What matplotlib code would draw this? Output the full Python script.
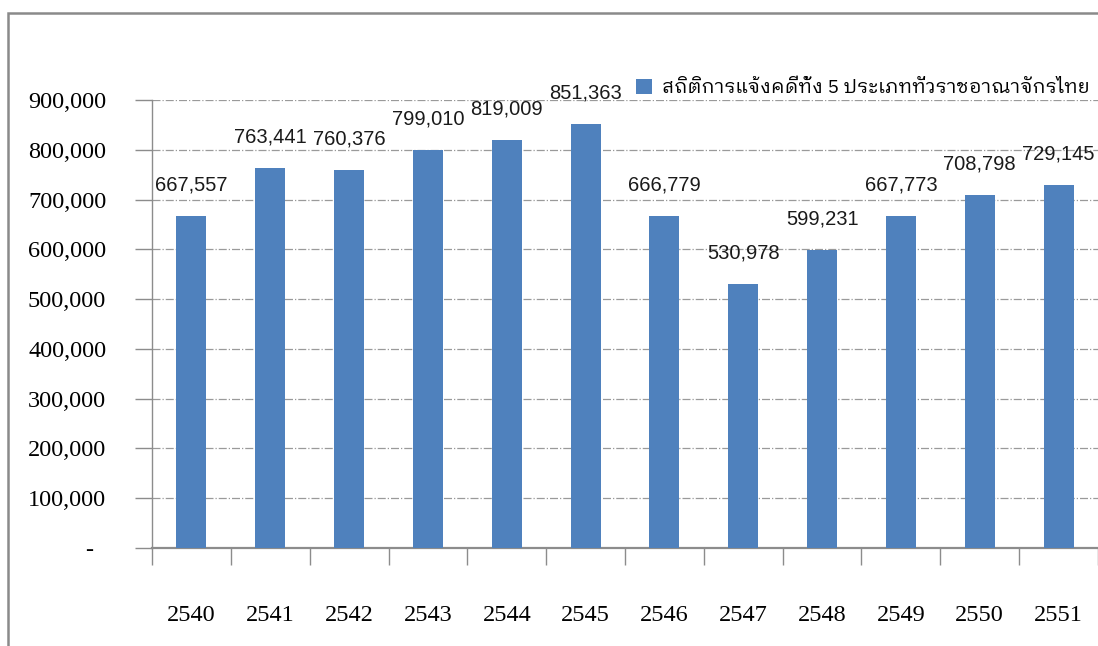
import matplotlib
matplotlib.use('Agg')
import matplotlib.pyplot as plt
from matplotlib import font_manager
from matplotlib.ft2font import FT2Font
from matplotlib.patches import Rectangle

years = ['2540', '2541', '2542', '2543', '2544', '2545',
         '2546', '2547', '2548', '2549', '2550', '2551']
cases = [667557, 763441, 760376, 799010, 819009, 851363,
         666779, 530978, 599231, 667773, 708798, 729145]
y_ticks = [0, 100000, 200000, 300000, 400000, 500000,
           600000, 700000, 800000, 900000]
legend_label = 'สถิติการแจ้งคดีทั้ง 5 ประเภททั่วราชอาณาจักรไทย'

bar_color = '#4F81BD'


# หาฟอนต์ที่มีอักษรไทย
def thai_family():
    found = []
    for f in font_manager.fontManager.ttflist:
        try:
            if 0x0E2A in FT2Font(f.fname).get_charmap():
                found.append(f.name)
        except Exception:
            pass
    for pref in ['Looped', 'Serif', 'Thai']:
        for name in found:
            if pref in name:
                return name
    return found[0] if found else 'DejaVu Sans'


thai = thai_family()

fig = plt.figure(figsize=(10.98, 6.46), dpi=100)
ax = fig.add_axes([152 / 1098, 1 - 548 / 646, 1 - 152 / 1098, (548 - 100) / 646])

x = list(range(len(years)))
bars = ax.bar(x, cases, width=0.38, color=bar_color, zorder=3,
              label=legend_label)

ax.set_ylim(0, 900000)
ax.set_xlim(-0.5, 11.47)

# เส้นกริดแบบเส้นประ-จุด
ax.set_yticks(y_ticks)
ax.set_yticklabels(['-  '] + ['{:,}'.format(v) for v in y_ticks[1:]],
                   fontsize=17.5, family='Liberation Serif')
ax.yaxis.grid(True, linestyle='-.', color='#9a9a9a', linewidth=0.9, zorder=0)
ax.tick_params(axis='y', length=12, width=1, color='#8c8c8c', pad=21)

# ขีดแกน x อยู่ระหว่างหมวด ป้ายอยู่กลางหมวด
ax.set_xticks([i - 0.5 for i in range(13)])
ax.set_xticklabels([])
ax.set_xticks(x, minor=True)
ax.set_xticklabels(years, minor=True, fontsize=17.5, family='Liberation Serif')
ax.tick_params(axis='x', which='major', length=12, width=1,
               color='#8c8c8c', direction='out')
ax.tick_params(axis='x', which='minor', length=0, pad=41)

for s in ['top', 'right']:
    ax.spines[s].set_visible(False)
ax.spines['left'].set_color('#8c8c8c')
ax.spines['bottom'].set_color('#8c8c8c')
ax.spines['bottom'].set_linewidth(1.6)
ax.spines['left'].set_linewidth(1.0)

for xi, v in zip(x, cases):
    ax.annotate('{:,}'.format(v), (xi, v), xytext=(0, 31),
                textcoords='offset pixels', ha='center', va='center',
                fontsize=14.5, family='Liberation Sans', color='#1a1a1a',
                zorder=4)

leg = ax.legend(loc='upper left', bbox_to_anchor=(636 / 1098, 1 - 79 / 646),
                bbox_transform=fig.transFigure, frameon=False,
                prop={'family': [thai, 'DejaVu Sans'], 'size': 14},
                handlelength=0.8, handleheight=0.8, handletextpad=0.55,
                borderaxespad=0, borderpad=0)

# กรอบรอบภาพ
fig.patches.append(Rectangle((8 / 1098, -0.05), 1.2, 1 - 13 / 646 + 0.05,
                             transform=fig.transFigure, fill=False,
                             edgecolor='#8a8a8a', linewidth=1.8))

fig.savefig('out.png', dpi=100)
